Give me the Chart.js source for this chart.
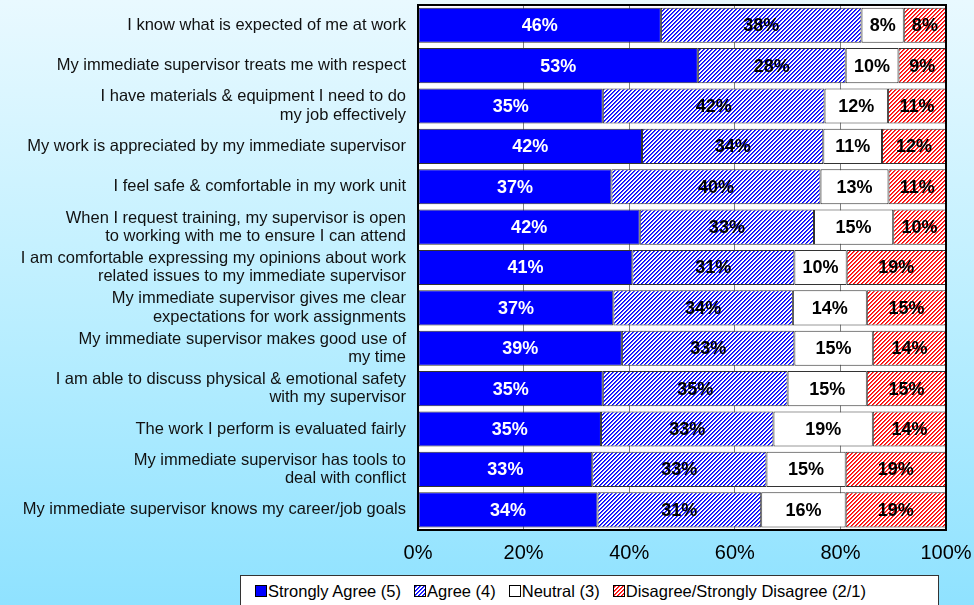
<!DOCTYPE html>
<html>
<head>
<meta charset="utf-8">
<script src="https://cdn.jsdelivr.net/npm/chart.js@4/dist/chart.umd.min.js"></script>
<style>
  html, body { margin:0; padding:0; }
  body {
    width:974px; height:605px; overflow:hidden; position:relative;
    background:linear-gradient(to bottom, #e9f9ff 0%, #bdefff 50%, #8fe2ff 100%);
    font-family:"Liberation Sans", Arial, sans-serif;
  }
  #chart { position:absolute; left:0; top:0; }
  #legend {
    position:absolute; left:240px; top:575px; width:699px; height:32px;
    background:#fff; border:1px solid #333; box-sizing:border-box;
    display:flex; align-items:center; padding-left:14px;
    font-size:16.5px; color:#000;
  }
  #legend .item { display:flex; align-items:center; margin-right:13px; white-space:nowrap; }
  #legend canvas { border:1px solid #000; margin-right:1px; }
</style>
</head>
<body>
<canvas id="chart" width="974" height="605"></canvas>
<div id="legend"></div>
<script>
// survey items, top to bottom
const questions = [
  "I know what is expected of me at work",
  "My immediate supervisor treats me with respect",
  ["I have materials & equipment I need to do", "my job effectively"],
  "My work is appreciated by my immediate supervisor",
  "I feel safe & comfortable in my work unit",
  ["When I request training, my supervisor is open", "to working with me to ensure I can attend"],
  ["I am comfortable expressing my opinions about work", "related issues to my immediate supervisor"],
  ["My immediate supervisor gives me clear", "expectations for work assignments"],
  ["My immediate supervisor makes good use of", "my time"],
  ["I am able to discuss physical & emotional safety", "with my supervisor"],
  "The work I perform is evaluated fairly",
  ["My immediate supervisor has tools to", "deal with conflict"],
  "My immediate supervisor knows my career/job goals"
];

const seriesNames = ["Strongly Agree (5)", "Agree (4)", "Neutral (3)", "Disagree/Strongly Disagree (2/1)"];

// percentages as reported
const stronglyAgree = [46, 53, 35, 42, 37, 42, 41, 37, 39, 35, 35, 33, 34];
const agree         = [38, 28, 42, 34, 40, 33, 31, 34, 33, 35, 33, 33, 31];
const neutral       = [ 8, 10, 12, 11, 13, 15, 10, 14, 15, 15, 19, 15, 16];
const disagree      = [ 8,  9, 11, 12, 11, 10, 19, 15, 14, 15, 14, 19, 19];

const xTicks = [0, 20, 40, 60, 80, 100];

const raw = [stronglyAgree, agree, neutral, disagree];

// 100% stacked: each row scaled by its own total
const totals = questions.map((q, i) => raw.reduce((s, arr) => s + arr[i], 0));
const shares = raw.map(arr => arr.map((v, i) => v / totals[i] * 100));

// diagonal "/" hatch on white
function hatchCanvas(dark, mid) {
  const c = document.createElement("canvas");
  c.width = c.height = 4;
  const g = c.getContext("2d");
  g.fillStyle = "#fff"; g.fillRect(0, 0, 4, 4);
  for (let y = 0; y < 4; y++)
    for (let x = 0; x < 4; x++) {
      const k = (x + y) % 4;
      if (k === 0) { g.fillStyle = dark; g.fillRect(x, y, 1, 1); }
      if (k === 1) { g.fillStyle = mid; g.fillRect(x, y, 1, 1); }
    }
  return c;
}
const blueHatch = () => hatchCanvas("#0000ff", "#4040ff");
const redHatch  = () => hatchCanvas("#ff0000", "#ff4040");

const ctx = document.getElementById("chart").getContext("2d");
const fills = [
  "#0000ff",
  ctx.createPattern(blueHatch(), "repeat"),
  "#ffffff",
  ctx.createPattern(redHatch(), "repeat")
];

const plotBg = {
  id: "plotBg",
  beforeDraw(chart) {
    const a = chart.chartArea, c = chart.ctx;
    c.save(); c.fillStyle = "#fff"; c.fillRect(a.left, a.top, a.right - a.left, a.bottom - a.top); c.restore();
  },
  afterDraw(chart) {
    const a = chart.chartArea, c = chart.ctx;
    c.save(); c.strokeStyle = "#000"; c.lineWidth = 2;
    c.strokeRect(a.left, a.top, a.right - a.left, a.bottom - a.top); c.restore();
  }
};

const barLabels = {
  id: "barLabels",
  afterDatasetsDraw(chart) {
    const c = chart.ctx;
    c.save();
    c.font = "bold 18px 'Liberation Sans', Arial, sans-serif";
    c.textAlign = "center"; c.textBaseline = "middle";
    chart.data.datasets.forEach((ds, i) => {
      chart.getDatasetMeta(i).data.forEach((bar, j) => {
        const p = bar.getProps(["x", "y", "base"], true);
        c.fillStyle = i === 0 ? "#fff" : "#000";
        c.fillText(raw[i][j] + "%", (p.x + p.base) / 2, p.y + 1);
      });
    });
    c.restore();
  }
};

new Chart(ctx, {
  type: "bar",
  data: {
    labels: questions,
    datasets: seriesNames.map((name, i) => ({
      label: name,
      data: shares[i],
      backgroundColor: fills[i],
      borderColor: "#333",
      borderWidth: 1,
      borderSkipped: false,
      categoryPercentage: 1,
      barPercentage: 0.87
    }))
  },
  options: {
    indexAxis: "y",
    responsive: false,
    devicePixelRatio: 1,
    animation: false,
    layout: { padding: { top: 5, right: 28, bottom: 35, left: 0 } },
    plugins: { legend: { display: false }, tooltip: { enabled: false } },
    scales: {
      x: {
        stacked: true, min: 0, max: 100,
        afterBuildTicks: s => { s.ticks = xTicks.map(v => ({ value: v })); },
        ticks: { callback: v => v + "%", font: { family: "'Liberation Sans', Arial", size: 20 }, color: "#000", padding: 11, maxRotation: 0 },
        grid: { color: "#808080", drawTicks: false },
        border: { display: false },
        afterFit: s => { s.height = 40; s.paddingLeft = 0; s.paddingRight = 0; }
      },
      y: {
        stacked: true,
        ticks: { font: { family: "'Liberation Sans', Arial", size: 16.5, lineHeight: 1.1 }, color: "#111", padding: 12, autoSkip: false },
        grid: { display: false, drawTicks: false },
        border: { display: false },
        afterFit: s => { s.width = 418; s.paddingTop = 0; s.paddingBottom = 0; }
      }
    }
  },
  plugins: [plotBg, barLabels]
});

// legend row
const legend = document.getElementById("legend");
seriesNames.forEach((name, i) => {
  const item = document.createElement("div");
  item.className = "item";
  const sw = document.createElement("canvas");
  sw.width = 10; sw.height = 10;
  const g = sw.getContext("2d");
  g.fillStyle = i === 1 ? g.createPattern(blueHatch(), "repeat")
              : i === 3 ? g.createPattern(redHatch(), "repeat")
              : fills[i];
  g.fillRect(0, 0, 10, 10);
  item.appendChild(sw);
  item.appendChild(document.createTextNode(name));
  legend.appendChild(item);
});
</script>
</body>
</html>
